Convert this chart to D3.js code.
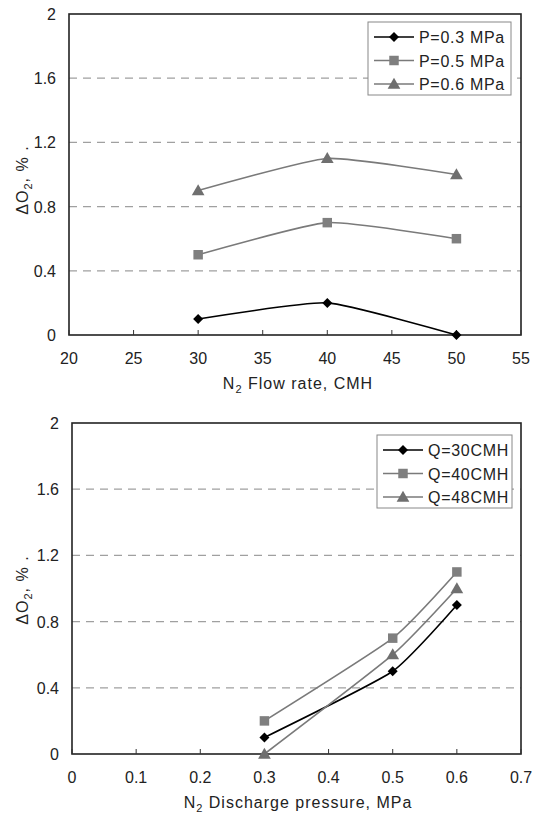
<!DOCTYPE html>
<html>
<head>
	<meta charset="utf-8">
	<title>Delta O2 charts</title>
	<style>
		body { margin: 0; background: #fff; }
		svg { display: block; font-family: 'Liberation Sans', Arial, sans-serif; }
	</style>
</head>
<body>
	<svg width="538" height="818"></svg>
<script src="https://d3js.org/d3.v7.min.js"></script>
<script>
	// top chart: flow rate on x, one series per pressure
	let flowX = [30, 40, 50]
	let p03 = [0.1, 0.2, 0]
	let p05 = [0.5, 0.7, 0.6]
	let p06 = [0.9, 1.1, 1.0]
	let topNames = ['P=0.3 MPa', 'P=0.5 MPa', 'P=0.6 MPa']
	let topXTicks = [20, 25, 30, 35, 40, 45, 50, 55]

	// bottom chart: pressure on x, one series per flow rate
	let pressX = [0.3, 0.5, 0.6]
	let q30 = [0.1, 0.5, 0.9]
	let q40 = [0.2, 0.7, 1.1]
	let q48 = [0, 0.6, 1.0]
	let botNames = ['Q=30CMH', 'Q=40CMH', 'Q=48CMH']
	let botXTicks = [0, 0.1, 0.2, 0.3, 0.4, 0.5, 0.6, 0.7]

	let yTicks = [0, 0.4, 0.8, 1.2, 1.6, 2]

	let markers = ['diamond', 'square', 'triangle']
	let lineCols = ['#000', '#7a7a7a', '#7a7a7a']
	let markCols = ['#000', '#7f7f7f', '#6f6f6f']

	let svg = d3.select('svg')

	function marker(g, type, x, y, col) {
		let sym = type == 'triangle' ? d3.symbolTriangle : d3.symbolSquare
		let size = type == 'diamond' ? 50 : type == 'square' ? 90 : 70
		let rot = type == 'diamond' ? ' rotate(45)' : ''
		g.append('path')
			.attr('d', d3.symbol().type(sym).size(size)())
			.attr('transform', `translate(${x},${y + (type == 'triangle' ? 1 : 0)})${rot}`)
			.style('fill', col)
	}

	function drawChart(opt) {
		let g = svg.append('g')
		let x = d3.scaleLinear().domain(opt.xDomain).range([opt.left, opt.right])
		let y = d3.scaleLinear().domain([0, 2]).range([opt.bottom, opt.top])

		// dashed grid
		g.selectAll('.grid')
			.data(yTicks.filter(d => d > 0 && d < 2))
			.join('line')
			.attr('x1', opt.left).attr('x2', opt.right)
			.attr('y1', d => y(d)).attr('y2', d => y(d))
			.style('stroke', '#a0a0a0')
			.style('stroke-width', 1.2)
			.style('stroke-dasharray', '8,6')

		// frame
		g.append('rect')
			.attr('x', opt.left).attr('y', opt.top)
			.attr('width', opt.right - opt.left).attr('height', opt.bottom - opt.top)
			.style('fill', 'none')
			.style('stroke', '#222')
			.style('stroke-width', 1.6)

		// x ticks pointing inward
		g.selectAll('.xt')
			.data(opt.xTicks)
			.join('line')
			.attr('x1', d => x(d)).attr('x2', d => x(d))
			.attr('y1', opt.bottom).attr('y2', opt.bottom - 5)
			.style('stroke', '#333')

		g.selectAll('.xl')
			.data(opt.xTicks)
			.join('text')
			.attr('x', d => x(d))
			.attr('y', opt.bottom + 29)
			.attr('text-anchor', 'middle')
			.style('font-size', '16px')
			.style('fill', '#222')
			.text(d => d)

		g.selectAll('.yl')
			.data(yTicks)
			.join('text')
			.attr('x', opt.left - 13)
			.attr('y', d => y(d) + 6)
			.attr('text-anchor', 'end')
			.style('font-size', '16px')
			.style('fill', '#222')
			.text(d => d)

		// axis titles
		let xt = g.append('text')
			.attr('x', opt.xTitleX)
			.attr('y', opt.bottom + 54)
			.attr('text-anchor', 'middle')
			.style('font-size', '16px')
			.style('letter-spacing', '1px')
			.style('fill', '#222')
		xt.append('tspan').text('N')
		xt.append('tspan').attr('dy', 4).style('font-size', '11px').text('2')
		xt.append('tspan').attr('dy', -4).text(' ' + opt.xTitle)

		let yt = g.append('text')
			.attr('transform', `translate(28,${opt.yTitleY}) rotate(-90)`)
			.attr('text-anchor', 'middle')
			.style('font-size', '16px')
			.style('letter-spacing', '1px')
			.style('fill', '#222')
		yt.append('tspan').text('ΔO')
		yt.append('tspan').attr('dy', 4).style('font-size', '11px').text('2')
		yt.append('tspan').attr('dy', -4).text(',  %   .')

		// series
		let line = d3.line()
			.x(d => x(d[0]))
			.y(d => y(d[1]))
			.curve(d3.curveCardinal.tension(0.5))

		opt.series.forEach((vals, i) => {
			let pts = opt.xVals.map((v, j) => [v, vals[j]])
			g.append('path')
				.datum(pts)
				.attr('d', line)
				.style('fill', 'none')
				.style('stroke', lineCols[i])
				.style('stroke-width', 1.6)
			pts.forEach(p => marker(g, markers[i], x(p[0]), y(p[1]), markCols[i]))
		})

		// legend
		let lg = g.append('g')
		lg.append('rect')
			.attr('x', opt.leg.x).attr('y', opt.leg.y)
			.attr('width', opt.leg.w).attr('height', 73)
			.style('fill', '#fff')
			.style('stroke', '#888')
		opt.names.forEach((n, i) => {
			let ly = opt.leg.y + 15 + i * 23.5
			lg.append('line')
				.attr('x1', opt.leg.x + 6).attr('x2', opt.leg.x + 46)
				.attr('y1', ly).attr('y2', ly)
				.style('stroke', lineCols[i])
				.style('stroke-width', 1.6)
			marker(lg, markers[i], opt.leg.x + 26, ly, markCols[i])
			lg.append('text')
				.attr('x', opt.leg.x + 51)
				.attr('y', ly + 6)
				.style('font-size', '16px')
				.style('letter-spacing', '0.7px')
				.style('fill', '#222')
				.text(n)
		})
	}

	drawChart({
		left: 69, right: 521, top: 14, bottom: 335,
		xDomain: [20, 55], xTicks: topXTicks, xVals: flowX,
		series: [p03, p05, p06], names: topNames,
		xTitle: 'Flow rate, CMH', xTitleX: 298, yTitleY: 180,
		leg: {x: 368, y: 22, w: 143}
	})

	drawChart({
		left: 72, right: 521, top: 423, bottom: 754,
		xDomain: [0, 0.7], xTicks: botXTicks, xVals: pressX,
		series: [q30, q40, q48], names: botNames,
		xTitle: 'Discharge pressure, MPa', xTitleX: 298, yTitleY: 590,
		leg: {x: 377, y: 435, w: 135}
	})
</script>
</body>
</html>
